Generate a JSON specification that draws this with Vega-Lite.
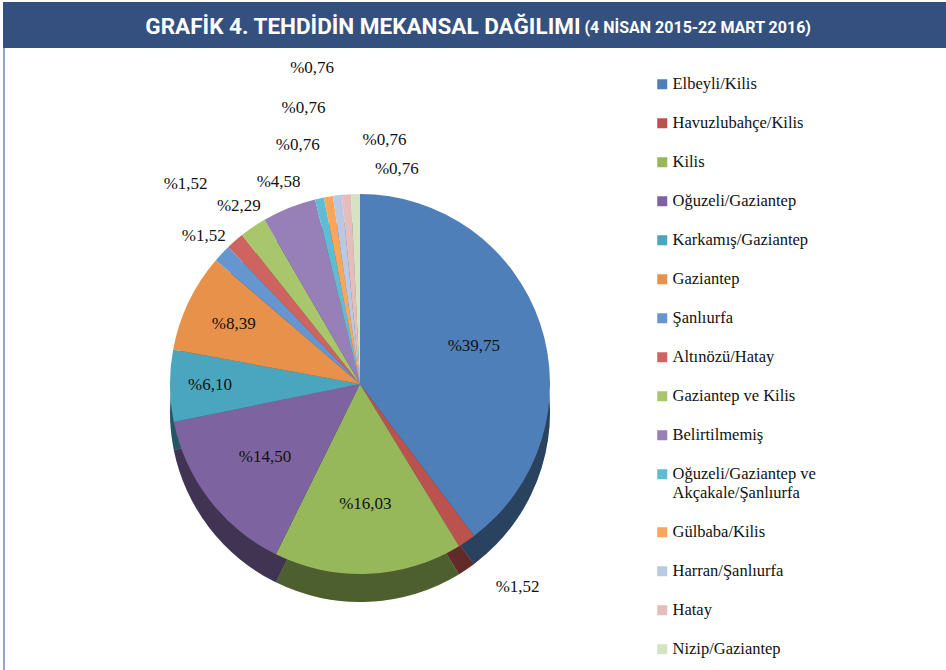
{
  "$schema": "https://vega.github.io/schema/vega-lite/v6.json",
  "padding": {"left": 3, "top": 2, "right": 0, "bottom": 0},
  "spacing": 0,
  "background": "white",
  "config": {"view": {"stroke": null}, "concat": {"spacing": 0}},
  "vconcat": [
    {
      "width": 943,
      "height": 46,
      "view": {"fill": "#34507f", "stroke": null},
      "data": {"values": [{"main": "GRAFİK 4. TEHDİDİN MEKANSAL DAĞILIMI", "sub": "(4 NİSAN 2015-22 MART 2016)"}]},
      "layer": [
        {
          "mark": {"type": "text", "align": "right", "baseline": "middle", "dx": 106, "dy": 2, "font": "Roboto", "fontWeight": "bold", "fontSize": 22.5, "color": "white"},
          "encoding": {"text": {"field": "main", "type": "nominal"}}
        },
        {
          "mark": {"type": "text", "align": "left", "baseline": "middle", "dx": 110, "dy": 3, "font": "Roboto", "fontWeight": "bold", "fontSize": 16, "color": "white"},
          "encoding": {"text": {"field": "sub", "type": "nominal"}}
        }
      ]
    },
    {
      "hconcat": [
        {
          "width": 2,
          "height": 622,
          "view": {"fill": "#95a8c8", "stroke": null},
          "data": {"values": [{"t": ""}]},
          "mark": {"type": "text"},
          "encoding": {"text": {"field": "t", "type": "nominal"}}
        },
        {
          "width": 710,
          "height": 622,
          "data": {
            "values": [
              {"i": 0, "name": "Elbeyli/Kilis", "value": 39.75},
              {"i": 1, "name": "Havuzlubahçe/Kilis", "value": 1.52},
              {"i": 2, "name": "Kilis", "value": 16.03},
              {"i": 3, "name": "Oğuzeli/Gaziantep", "value": 14.50},
              {"i": 4, "name": "Karkamış/Gaziantep", "value": 6.10},
              {"i": 5, "name": "Gaziantep", "value": 8.39},
              {"i": 6, "name": "Şanlıurfa", "value": 1.52},
              {"i": 7, "name": "Altınözü/Hatay", "value": 1.52},
              {"i": 8, "name": "Gaziantep ve Kilis", "value": 2.29},
              {"i": 9, "name": "Belirtilmemiş", "value": 4.58},
              {"i": 10, "name": "Oğuzeli/Gaziantep ve Akçakale/Şanlıurfa", "value": 0.76},
              {"i": 11, "name": "Gülbaba/Kilis", "value": 0.76},
              {"i": 12, "name": "Harran/Şanlıurfa", "value": 0.76},
              {"i": 13, "name": "Hatay", "value": 0.76},
              {"i": 14, "name": "Nizip/Gaziantep", "value": 0.76}
            ]
          },
          "transform": [
            {"calculate": "'%' + replace(format(datum.value, '.2f'), '.', ',')", "as": "label"}
          ],
          "encoding": {
            "theta": {"field": "value", "type": "quantitative", "stack": true},
            "order": {"field": "i", "type": "quantitative"}
          },
          "layer": [
            {
              "mark": {"type": "arc", "radius": 190, "yOffset": 53, "stroke": null},
              "encoding": {"color": {"field": "name", "type": "nominal"}}
            },
            {
              "mark": {"type": "arc", "radius": 190, "yOffset": 53, "fill": "#000000", "opacity": 0.48, "stroke": null}
            },
            {
              "mark": {"type": "arc", "radius": 190, "yOffset": 25, "stroke": null},
              "encoding": {
                "color": {
                  "field": "name",
                  "type": "nominal",
                  "scale": {
                    "domain": ["Elbeyli/Kilis", "Havuzlubahçe/Kilis", "Kilis", "Oğuzeli/Gaziantep", "Karkamış/Gaziantep", "Gaziantep", "Şanlıurfa", "Altınözü/Hatay", "Gaziantep ve Kilis", "Belirtilmemiş", "Oğuzeli/Gaziantep ve Akçakale/Şanlıurfa", "Gülbaba/Kilis", "Harran/Şanlıurfa", "Hatay", "Nizip/Gaziantep"],
                    "range": ["#4F7FB8", "#BC524E", "#96B75A", "#7D64A0", "#4AA6BE", "#E8914A", "#6596D0", "#CE6360", "#A8C66C", "#977FB8", "#5FBCD5", "#F9A55A", "#B9C9E3", "#E4BDBC", "#D5E3C2"]
                  },
                  "legend": {
                    "title": null,
                    "orient": "none",
                    "legendX": 651,
                    "legendY": 74,
                    "padding": 0,
                    "symbolType": "square",
                    "symbolSize": 100,
                    "symbolStrokeWidth": 0,
                    "symbolOpacity": 1,
                    "labelFont": "Liberation Serif",
                    "labelFontSize": 16.5,
                    "labelColor": "#111111",
                    "labelOffset": 2,
                    "labelLimit": 300,
                    "rowPadding": 22,
                    "labelExpr": "datum.label == 'Oğuzeli/Gaziantep ve Akçakale/Şanlıurfa' ? ['Oğuzeli/Gaziantep ve', 'Akçakale/Şanlıurfa'] : datum.label"
                  }
                }
              }
            },
            {
              "mark": {
                "type": "text",
                "font": "Liberation Serif",
                "fontSize": 17,
                "color": "#111111",
                "yOffset": 25,
                "radius": {"expr": "[120,245,120,120,150,140,215,265,215,218,245,280,318,245,215][datum.i]"},
                "dx": {"expr": "[0,20,0,0,0,0,0,0,0,0,-10,-10,-10,42,42][datum.i]"}
              },
              "encoding": {"text": {"field": "label", "type": "nominal"}}
            }
          ]
        }
      ]
    }
  ]
}
